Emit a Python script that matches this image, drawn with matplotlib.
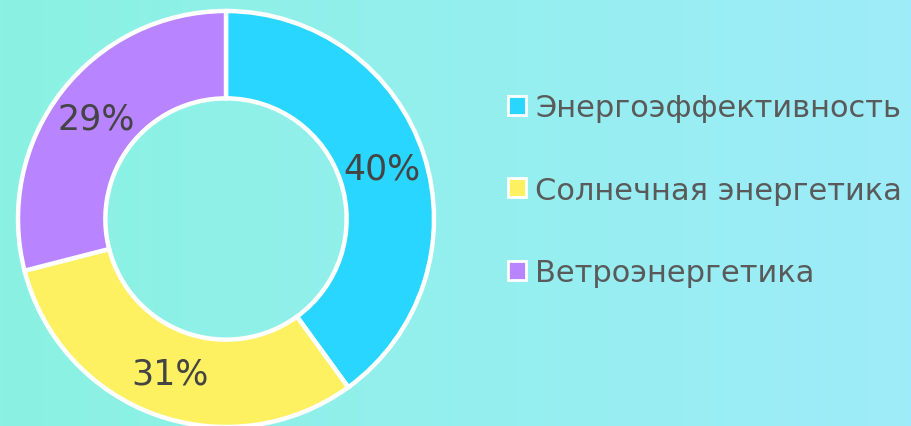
import matplotlib
matplotlib.use("Agg")
import matplotlib.pyplot as plt
import numpy as np
from matplotlib.colors import LinearSegmentedColormap

categories = ["Энергоэффективность", "Солнечная энергетика", "Ветроэнергетика"]
values = [40, 31, 29]
colors = ["#29d6ff", "#fdf162", "#b884ff"]

W, H = 912, 427
fig = plt.figure(figsize=(W / 100, H / 100), dpi=100)

# gradient background
bg = fig.add_axes([0, 0, 1, 1])
grad = np.linspace(0, 1, 256).reshape(1, -1)
cmap = LinearSegmentedColormap.from_list("bg", ["#8af2e2", "#9eecf9"])
bg.imshow(grad, aspect="auto", cmap=cmap, extent=[0, 1, 0, 1])
bg.set_axis_off()

cx, cy, r = 226, 427 - 220, 208
ax = fig.add_axes([(cx - r) / W, (cy - r) / H, 2 * r / W, 2 * r / H])
ax.patch.set_alpha(0)

wedges, texts, autotexts = ax.pie(
    values, colors=colors, startangle=90, counterclock=False, radius=1,
    autopct="%d%%", pctdistance=0.79,
    wedgeprops=dict(width=0.42, edgecolor="white", linewidth=3.2),
    textprops=dict(fontsize=25, color="#444444", family="DejaVu Sans"),
)
ax.set_xlim(-1, 1)
ax.set_ylim(-1, 1)
ax.set_axis_off()
for w in wedges:
    w.set_clip_on(False)

leg = fig.legend(
    wedges, categories, loc="center left", bbox_to_anchor=(508 / W, (427 - 191) / H),
    frameon=False, fontsize=22, labelcolor="#5a5a5a",
    handlelength=0.6, handleheight=0.6, handletextpad=0.3, labelspacing=1.75,
    borderaxespad=0, borderpad=0,
)
for h in leg.legend_handles:
    h.set_edgecolor("white")
    h.set_linewidth(2)

fig.savefig("out.png", dpi=100)
